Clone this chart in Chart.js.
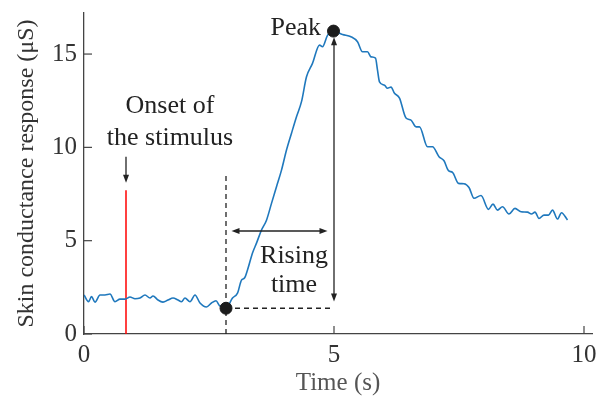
<!DOCTYPE html>
<html>
<head>
<meta charset="utf-8">
<script src="https://cdn.jsdelivr.net/npm/chart.js@4.4.1/dist/chart.umd.min.js"></script>
<style>
    html, body { margin: 0; padding: 0; background: #fff; }
    #wrap { width: 599px; height: 398px; }
</style>
</head>
<body>
<div id="wrap"><canvas id="scr"></canvas></div>
<script>
// skin conductance trace (time in s, response in uS)
var timeValues = [0, 0.09, 0.15, 0.22, 0.32, 0.42, 0.52, 0.62, 0.72, 0.82, 0.92, 1.02, 1.12, 1.22, 1.32, 1.38,
    1.48, 1.58, 1.68, 1.78, 1.88, 1.95, 2.02, 2.12, 2.22, 2.32, 2.45, 2.55, 2.64, 2.71, 2.84, 2.97, 3.07,
    3.15, 3.21, 3.27, 3.37, 3.45, 3.55, 3.65, 3.75, 3.85, 3.95, 4.05, 4.15, 4.25, 4.35, 4.45, 4.57, 4.71,
    4.77, 4.87, 4.99, 5.17, 5.34, 5.47, 5.57, 5.67, 5.74, 5.83, 5.87, 5.91, 6.01, 6.07, 6.14, 6.21, 6.31,
    6.44, 6.54, 6.64, 6.71, 6.87, 6.97, 7.1, 7.2, 7.29, 7.37, 7.49, 7.6, 7.7, 7.8, 7.94, 8.09, 8.18, 8.27,
    8.37, 8.5, 8.62, 8.74, 8.87, 8.95, 9.02, 9.1, 9.2, 9.29, 9.37, 9.47, 9.55, 9.67];
var conductanceValues = [2.09, 1.73, 2.0, 1.71, 2.09, 2.09, 2.14, 1.73, 1.87, 1.87, 1.98, 1.89, 1.93, 2.09, 1.93, 2.04,
    1.82, 1.71, 1.82, 1.93, 1.82, 1.73, 1.93, 1.73, 2.09, 1.66, 1.45, 1.66, 1.78, 1.52, 1.38, 1.93, 2.19,
    2.89, 3.0, 3.43, 4.34, 4.87, 5.57, 6.1, 7.0, 7.89, 8.78, 9.86, 10.76, 11.64, 12.45, 13.78, 14.5, 15.48,
    15.39, 16.0, 16.23, 16.05, 15.93, 15.66, 15.12, 15.12, 14.85, 14.78, 14.14, 13.51, 13.33, 13.17, 13.23, 12.9, 12.64,
    11.57, 11.46, 11.1, 11.1, 10.03, 10.03, 9.5, 9.28, 8.75, 8.66, 8.07, 8.05, 7.85, 7.27, 7.42, 6.68, 6.96, 6.64,
    6.82, 6.43, 6.73, 6.55, 6.53, 6.43, 6.53, 6.19, 6.37, 6.37, 6.64, 6.16, 6.5, 6.11];

// start of response and peak
var markerTimes = [2.84, 4.99];
var markerValues = [1.38, 16.23];

// stimulus onset (red line) and the arrow above it
var onsetTime = 0.84;
var onsetLine = [0, 7.7];
var onsetArrow = [9.5, 8.1];

// dashed guides from the response start
var startGuideY = [0, 8.5];
var startGuideX = [2.84, 4.94];

// rising time arrow (horizontal) and amplitude arrow (vertical)
var risingArrowY = 5.52;
var risingArrowX = [2.95, 4.87];
var peakArrowX = 5.0;
var peakArrowY = [1.74, 15.9];

var xTicks = [0, 5, 10];
var yTicks = [0, 5, 10, 15];

var serif = "'Liberation Serif', 'Times New Roman', serif";

function pts(xs, ys) {
    var out = [];
    for (var i = 0; i < xs.length; i++) {
        out.push({ x: xs[i], y: ys[i] });
    }
    return out;
}

function arrowHead(ctx, x, y, dir) {
    // dir: 'up', 'down', 'left', 'right' = where the tip points
    var len = 8, half = 3;
    ctx.beginPath();
    ctx.moveTo(x, y);
    if (dir == 'down') { ctx.lineTo(x - half, y - len); ctx.lineTo(x + half, y - len); }
    if (dir == 'up') { ctx.lineTo(x - half, y + len); ctx.lineTo(x + half, y + len); }
    if (dir == 'left') { ctx.lineTo(x + len, y - half); ctx.lineTo(x + len, y + half); }
    if (dir == 'right') { ctx.lineTo(x - len, y - half); ctx.lineTo(x - len, y + half); }
    ctx.closePath();
    ctx.fill();
}

var annotate = {
    id: 'annotate',
    afterDatasetsDraw: function (chart) {
        var ctx = chart.ctx;
        var xs = chart.scales.x, ys = chart.scales.y;
        ctx.save();

        // inward tick marks
        ctx.strokeStyle = '#444';
        ctx.lineWidth = 1.2;
        xTicks.forEach(function (v) {
            var px = xs.getPixelForValue(v);
            ctx.beginPath();
            ctx.moveTo(px, ys.bottom);
            ctx.lineTo(px, ys.bottom - 8);
            ctx.stroke();
        });
        yTicks.forEach(function (v) {
            var py = ys.getPixelForValue(v);
            ctx.beginPath();
            ctx.moveTo(xs.left, py);
            ctx.lineTo(xs.left + 8, py);
            ctx.stroke();
        });

        ctx.strokeStyle = '#222';
        ctx.fillStyle = '#222';
        ctx.lineWidth = 1.3;

        // onset arrow
        var ox = xs.getPixelForValue(onsetTime);
        var oy0 = ys.getPixelForValue(onsetArrow[0]), oy1 = ys.getPixelForValue(onsetArrow[1]);
        ctx.beginPath();
        ctx.moveTo(ox, oy0);
        ctx.lineTo(ox, oy1 - 4);
        ctx.stroke();
        arrowHead(ctx, ox, oy1, 'down');

        // rising time arrow
        var ry = ys.getPixelForValue(risingArrowY);
        var rx0 = xs.getPixelForValue(risingArrowX[0]), rx1 = xs.getPixelForValue(risingArrowX[1]);
        ctx.beginPath();
        ctx.moveTo(rx0 + 4, ry);
        ctx.lineTo(rx1 - 4, ry);
        ctx.stroke();
        arrowHead(ctx, rx0, ry, 'left');
        arrowHead(ctx, rx1, ry, 'right');

        // amplitude arrow
        var px = xs.getPixelForValue(peakArrowX);
        var py0 = ys.getPixelForValue(peakArrowY[0]), py1 = ys.getPixelForValue(peakArrowY[1]);
        ctx.beginPath();
        ctx.moveTo(px, py0 - 4);
        ctx.lineTo(px, py1 + 4);
        ctx.stroke();
        arrowHead(ctx, px, py0, 'down');
        arrowHead(ctx, px, py1, 'up');

        // labels
        ctx.font = '26px ' + serif;
        ctx.textBaseline = 'alphabetic';
        ctx.textAlign = 'center';
        ctx.fillText('Onset of', 170, 113);
        ctx.fillText('the stimulus', 170, 145);
        ctx.fillText('Rising', 294, 263);
        ctx.fillText('time', 294, 292);
        ctx.textAlign = 'right';
        ctx.fillText('Peak', 321, 35);

        ctx.restore();
    }
};

new Chart(document.getElementById('scr'), {
    type: 'scatter',
    data: {
        datasets: [
            {
                label: 'markers',
                data: pts(markerTimes, markerValues),
                backgroundColor: '#1c1c1c',
                borderColor: '#1c1c1c',
                pointRadius: 6,
                showLine: false
            },
            {
                label: 'Skin conductance',
                data: pts(timeValues, conductanceValues),
                borderColor: '#1f78bd',
                borderWidth: 1.6,
                pointRadius: 0,
                showLine: true,
                cubicInterpolationMode: 'monotone'
            },
            {
                label: 'onset',
                data: pts([onsetTime, onsetTime], onsetLine),
                borderColor: '#ff0000',
                borderWidth: 1.5,
                pointRadius: 0,
                showLine: true
            },
            {
                label: 'start vertical',
                data: pts([markerTimes[0], markerTimes[0]], startGuideY),
                borderColor: '#222',
                borderWidth: 1.3,
                borderDash: [5, 4],
                pointRadius: 0,
                showLine: true
            },
            {
                label: 'start horizontal',
                data: pts(startGuideX, [markerValues[0], markerValues[0]]),
                borderColor: '#222',
                borderWidth: 1.3,
                borderDash: [5, 4],
                pointRadius: 0,
                showLine: true
            }
        ]
    },
    options: {
        responsive: true,
        maintainAspectRatio: false,
        animation: false,
        layout: { padding: { top: 13, right: 6, left: 0, bottom: 0 } },
        plugins: {
            legend: { display: false },
            tooltip: { enabled: false }
        },
        scales: {
            x: {
                type: 'linear',
                min: 0,
                max: 10.16,
                afterBuildTicks: function (s) { s.ticks = xTicks.map(function (v) { return { value: v }; }); },
                afterFit: function (s) { s.height = 64; s.paddingLeft = 0; s.paddingRight = 0; },
                grid: { display: false, drawTicks: false },
                border: { display: true, color: '#444', width: 1.3 },
                ticks: { color: '#333', padding: 6, maxRotation: 0, font: { family: serif, size: 25 } },
                title: { display: true, text: 'Time (s)', color: '#555', padding: { top: 2, bottom: 0 }, font: { family: serif, size: 25 } }
            },
            y: {
                min: 0,
                max: 17.2,
                afterBuildTicks: function (s) { s.ticks = yTicks.map(function (v) { return { value: v }; }); },
                afterFit: function (s) { s.width = 84; s.paddingTop = 0; s.paddingBottom = 0; },
                grid: { display: false, drawTicks: false },
                border: { display: true, color: '#444', width: 1.3 },
                ticks: { color: '#333', padding: 7, font: { family: serif, size: 25 } },
                title: { display: true, text: 'Skin conductance response (\u03bcS)', color: '#333', padding: { top: 12, bottom: 0 }, font: { family: serif, size: 24 } }
            }
        }
    },
    plugins: [annotate]
});
</script>
</body>
</html>
